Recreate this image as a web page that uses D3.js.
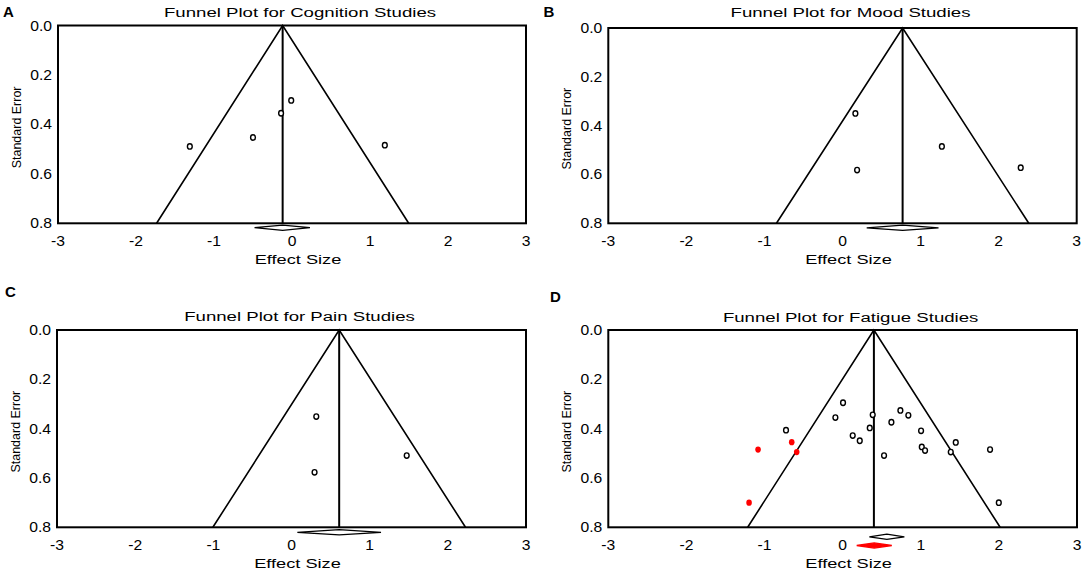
<!DOCTYPE html>
<html>
<head>
<meta charset="utf-8">
<script src="https://cdn.jsdelivr.net/npm/d3@7"></script>
<style>
  html, body { margin: 0; padding: 0; background: #fff; }
  svg { display: block; font-family: "Liberation Sans", Arial, sans-serif; }
</style>
</head>
<body>
<div id="chart"></div>
<script>
// axis ticks shared by all four funnel plots
const xTicks = [-3, -2, -1, 0, 1, 2, 3];
const yTicks = [0.0, 0.2, 0.4, 0.6, 0.8];

const panelLetters = ['A', 'B', 'C', 'D'];
const panelTitles = [
    'Funnel Plot for Cognition Studies',
    'Funnel Plot for Mood Studies',
    'Funnel Plot for Pain Studies',
    'Funnel Plot for Fatigue Studies'
];

// study effect sizes and standard errors
const cognitionEffect = [-1.31, -0.50, -0.14, -0.01, 1.19];
const cognitionSE = [0.489, 0.453, 0.355, 0.303, 0.484];
const cognitionPooled = [-0.12, -0.48, 0.23];   // estimate, lower, upper

const moodEffect = [0.165, 0.187, 1.273, 2.283];
const moodSE = [0.350, 0.582, 0.485, 0.572];
const moodPooled = [0.77, 0.31, 1.23];

const painEffect = [0.317, 0.295, 1.474];
const painSE = [0.351, 0.577, 0.509];
const painPooled = [0.61, 0.075, 1.145];

const fatigueEffect = [-0.725, -0.093, 0.005, 0.129, 0.219, 0.347, 0.385, 0.530, 0.624,
                       0.739, 0.841, 1.004, 1.013, 1.055, 1.384, 1.448, 1.887, 1.999];
const fatigueSE = [0.406, 0.355, 0.295, 0.428, 0.449, 0.397, 0.344, 0.509, 0.374,
                   0.326, 0.346, 0.409, 0.474, 0.489, 0.495, 0.456, 0.485, 0.700];
// imputed studies (trim and fill)
const fatigueImputedEffect = [-1.083, -0.652, -0.588, -1.198];
const fatigueImputedSE = [0.485, 0.455, 0.495, 0.700];
const fatiguePooled = [0.566, 0.342, 0.790];
const fatigueAdjusted = [0.404, 0.180, 0.629];

// funnel centre of each panel
const funnelCentre = [-0.12, 0.77, 0.61, 0.40];
const funnelZ = 2.02;
const seMax = 0.8;

const width = 1084, height = 572;
const svg = d3.select('#chart').append('svg')
    .attr('width', width)
    .attr('height', height);

// layout of each plotting frame (pixels)
const layout = [
    {x0: 58, x1: 526, y0: 25.5, y1: 223.3, titleY: 17, letterX: 3, letterY: 17},
    {x0: 608.3, x1: 1076.7, y0: 28, y1: 223.3, titleY: 17, letterX: 543.5, letterY: 16.5},
    {x0: 57, x1: 526, y0: 330, y1: 527.3, titleY: 320.5, letterX: 5, letterY: 297},
    {x0: 608.3, x1: 1077, y0: 330, y1: 527.3, titleY: 321.5, letterX: 550, letterY: 302}
];

const panels = [
    {studies: [{x: cognitionEffect, se: cognitionSE, fill: false}],
     diamonds: [{d: cognitionPooled, fill: '#fff', off: 4.4}]},
    {studies: [{x: moodEffect, se: moodSE, fill: false}],
     diamonds: [{d: moodPooled, fill: '#fff', off: 4.5}]},
    {studies: [{x: painEffect, se: painSE, fill: false}],
     diamonds: [{d: painPooled, fill: '#fff', off: 5}]},
    {studies: [{x: fatigueEffect, se: fatigueSE, fill: false},
               {x: fatigueImputedEffect, se: fatigueImputedSE, fill: true}],
     diamonds: [{d: fatiguePooled, fill: '#fff', off: 9.5},
                {d: fatigueAdjusted, fill: '#ff0000', off: 18.2}]}
];

// text in the original is drawn wide, so stretch it horizontally
function wideText(parent, x, y, str, size, sx, anchor) {
    return parent.append('text')
        .attr('transform', `translate(${x},${y}) scale(${sx},1)`)
        .attr('text-anchor', anchor || 'middle')
        .attr('font-size', size)
        .attr('fill', '#000')
        .text(str);
}

function drawPanel(i) {
    const L = layout[i];
    const p = panels[i];
    const g = svg.append('g');

    const x = d3.scaleLinear().domain([-3, 3]).range([L.x0, L.x1]);
    const y = d3.scaleLinear().domain([0, seMax]).range([L.y0, L.y1]);

    // funnel
    const m = funnelCentre[i];
    const line = d3.line().x(d => x(d[0])).y(d => y(d[1]));
    g.append('path')
        .attr('d', line([[m - funnelZ * seMax, seMax], [m, 0], [m + funnelZ * seMax, seMax]]))
        .attr('fill', 'none')
        .attr('stroke', '#000')
        .attr('stroke-width', 1.6);
    g.append('path')
        .attr('d', line([[m, 0], [m, seMax]]))
        .attr('stroke', '#000')
        .attr('stroke-width', 2);

    // frame
    g.append('rect')
        .attr('x', L.x0).attr('y', L.y0)
        .attr('width', L.x1 - L.x0).attr('height', L.y1 - L.y0)
        .attr('fill', 'none')
        .attr('stroke', '#000')
        .attr('stroke-width', 2);

    // studies
    p.studies.forEach(s => {
        const pts = s.x.map((v, k) => ({e: v, se: s.se[k]}));
        g.selectAll(null)
            .data(pts)
            .enter()
            .append('ellipse')
            .attr('cx', d => x(d.e))
            .attr('cy', d => y(d.se))
            .attr('rx', s.fill ? 2.8 : 2.4)
            .attr('ry', s.fill ? 3.1 : 2.7)
            .attr('fill', s.fill ? '#ff0000' : '#fff')
            .attr('stroke', s.fill ? 'none' : '#000')
            .attr('stroke-width', 1.4);
    });

    // pooled diamonds under the frame
    p.diamonds.forEach(dm => {
        const yc = y(seMax) + dm.off;
        const h = 2.6;
        const [est, lo, hi] = dm.d;
        g.append('path')
            .attr('d', d3.line()([[x(lo), yc], [x(est), yc - h], [x(hi), yc], [x(est), yc + h]]) + 'Z')
            .attr('fill', dm.fill)
            .attr('stroke', dm.fill === '#fff' ? '#000' : '#ff0000')
            .attr('stroke-width', 1.3);
    });

    // tick labels
    xTicks.forEach(t => {
        wideText(g, x(t), L.y1 + 23, String(t), 14.5, 1.08);
    });
    yTicks.forEach(t => {
        wideText(g, L.x0 - 6, y(t) + 5, t.toFixed(1), 14.5, 1.08, 'end');
    });

    // titles and axis labels
    const cx = (L.x0 + L.x1) / 2;
    wideText(g, cx + 8, L.titleY, panelTitles[i], 13.5, 1.38);
    wideText(g, cx + 6, L.y1 + 41, 'Effect Size', 13.5, 1.35);
    g.append('text')
        .attr('transform', `translate(${L.x0 - 37},${(L.y0 + L.y1) / 2 + 3}) rotate(-90) scale(1.04,1)`)
        .attr('text-anchor', 'middle')
        .attr('font-size', 12)
        .text('Standard Error');

    g.append('text')
        .attr('x', L.letterX)
        .attr('y', L.letterY)
        .attr('font-size', 15)
        .attr('font-weight', 'bold')
        .text(panelLetters[i]);
}

panelLetters.forEach((_, i) => drawPanel(i));
</script>
</body>
</html>
